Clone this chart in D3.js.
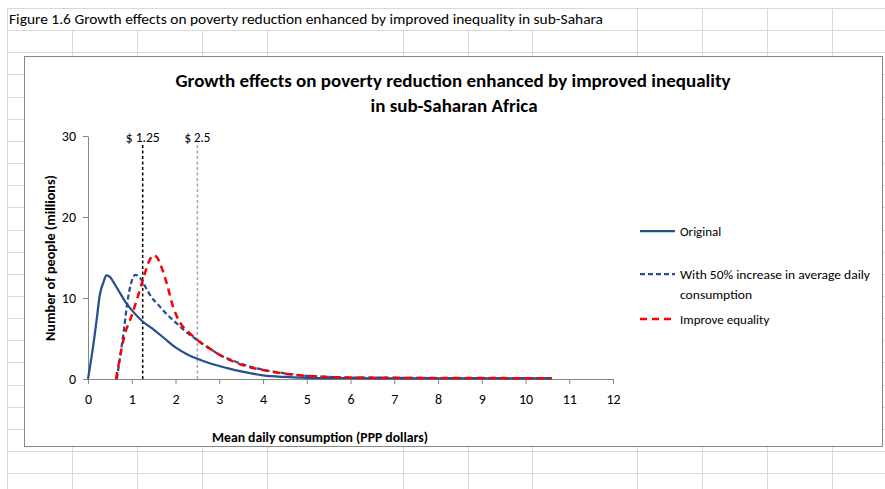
<!DOCTYPE html>
<html>
<head>
<meta charset="utf-8">
<script src="https://cdn.jsdelivr.net/npm/d3@7"></script>
<style>
  html, body { margin: 0; padding: 0; background: #fff; }
  svg { display: block; font-family: Carlito, Calibri, Lato, sans-serif; }
</style>
</head>
<body>
<div id="chart"></div>
<script>
// series data
const origX   = [0, 0.1, 0.2, 0.27, 0.35, 0.42, 0.5, 0.6, 0.7, 0.87, 1.0, 1.25, 1.5, 1.75, 2.0, 2.25, 2.5, 2.75, 3.0, 3.25, 3.5, 4.0, 4.5, 5.0, 5.5, 6, 7, 8, 9, 10, 10.6];
const origY   = [0, 3.4, 7.4, 10.4, 11.9, 12.8, 12.6, 11.8, 10.9, 9.4, 8.5, 7.1, 6.1, 5.0, 3.9, 3.1, 2.5, 2.0, 1.6, 1.25, 0.95, 0.45, 0.25, 0.15, 0.1, 0.1, 0.08, 0.08, 0.08, 0.08, 0.08];
const growthX = [0.66, 0.72, 0.82, 0.9, 0.97, 1.02, 1.08, 1.15, 1.25, 1.35, 1.45, 1.6, 1.8, 2.0, 2.2, 2.5, 2.8, 3.0, 3.3, 3.6, 4.0, 4.5, 5.0, 5.5, 6, 7, 8, 9, 10, 10.6];
const growthY = [0, 2.2, 6.0, 9.5, 11.5, 12.4, 12.85, 12.7, 12.0, 11.0, 10.1, 9.2, 8.0, 7.0, 6.0, 4.8, 3.7, 3.0, 2.3, 1.7, 1.15, 0.7, 0.4, 0.25, 0.18, 0.15, 0.12, 0.12, 0.1, 0.1];
const equalX  = [0.64, 0.72, 0.83, 0.99, 1.14, 1.28, 1.41, 1.5, 1.58, 1.7, 1.8, 1.94, 2.1, 2.3, 2.5, 2.8, 3.0, 3.3, 3.6, 4.0, 4.5, 5.0, 5.5, 6, 7, 8, 9, 10, 10.6];
const equalY  = [0, 2.4, 5.3, 7.7, 10.2, 12.7, 14.7, 15.3, 15.0, 13.5, 11.8, 9.0, 7.0, 5.8, 4.8, 3.7, 3.0, 2.2, 1.6, 1.1, 0.65, 0.38, 0.25, 0.18, 0.15, 0.12, 0.12, 0.1, 0.1];

const seriesNames = ["Original", "With 50% increase in average daily consumption", "Improve equality"];
const povertyLines = [1.25, 2.5];
const povertyLabels = ["$ 1.25", "$ 2.5"];
const xTickValues = [0, 1, 2, 3, 4, 5, 6, 7, 8, 9, 10, 11, 12];
const yTickValues = [0, 10, 20, 30];

const width = 885;
const height = 489;

const svg = d3.select("#chart")
    .append("svg")
    .attr("width", width)
    .attr("height", height);

// stretch/squeeze text to the width seen in the picture
function fit(sel, w) {
    const len = sel.node().getComputedTextLength();
    if (Math.abs(len - w) / w > 0.02) {
        sel.attr("textLength", w).attr("lengthAdjust", "spacingAndGlyphs");
    }
    return sel;
}

// spreadsheet grid behind the chart
const gridColor = "#d9d9d9";
const colLines = [7, 72, 137, 202, 267, 403, 468, 532, 637, 702, 767, 832];
const rowLines = d3.range(22).map(i => Math.round(8 + i * 22.15) + 0.5);

const grid = svg.append("g").attr("stroke", gridColor).attr("stroke-width", 1);
grid.selectAll("line.row")
    .data(rowLines)
    .enter().append("line")
    .attr("x1", 7).attr("x2", width)
    .attr("y1", d => d).attr("y2", d => d);
grid.selectAll("line.col")
    .data(colLines)
    .enter().append("line")
    .attr("x1", d => d + 0.5).attr("x2", d => d + 0.5)
    .attr("y1", d => (d > 7 && d < 610) ? rowLines[1] : rowLines[0])
    .attr("y2", height);

svg.append("text")
    .attr("x", 9)
    .attr("y", 24)
    .attr("font-size", 14.5)
    .attr("fill", "#000")
    .text("Figure 1.6 Growth effects on poverty reduction enhanced by improved inequality in sub-Sahara")
    .call(s => fit(s, 594));

// chart frame
svg.append("rect")
    .attr("x", 24.5).attr("y", 56.5)
    .attr("width", 858).attr("height", 390)
    .attr("fill", "#fff")
    .attr("stroke", "#868686")
    .attr("stroke-width", 1);

// title
const title = svg.append("g")
    .attr("font-weight", "bold")
    .attr("font-size", 18.5)
    .attr("text-anchor", "middle")
    .attr("fill", "#000");
title.append("text").attr("x", 453).attr("y", 87)
    .text("Growth effects on poverty reduction enhanced by improved inequality")
    .call(s => fit(s, 555));
title.append("text").attr("x", 454).attr("y", 112)
    .text("in sub-Saharan Africa")
    .call(s => fit(s, 167));

// scales
const x = d3.scaleLinear().domain([0, 12]).range([88, 613]);
const y = d3.scaleLinear().domain([0, 30]).range([379, 136]);

const axisColor = "#868686";

const xAxis = svg.append("g")
    .attr("transform", `translate(0,${y(0)})`)
    .call(d3.axisBottom(x).tickValues(xTickValues).tickSize(5).tickSizeOuter(0).tickPadding(8));
const yAxis = svg.append("g")
    .attr("transform", `translate(${x(0)},0)`)
    .call(d3.axisLeft(y).tickValues(yTickValues).tickSize(5).tickSizeOuter(0).tickPadding(7));

[xAxis, yAxis].forEach(a => {
    a.select(".domain").attr("stroke", axisColor);
    a.selectAll(".tick line").attr("stroke", axisColor);
    a.selectAll(".tick text")
        .attr("fill", "#000")
        .attr("font-size", 14)
        .attr("font-family", "Carlito, Calibri, Lato, sans-serif");
});
xAxis.selectAll(".tick text").attr("dy", "0.85em");

// axis titles
svg.append("text")
    .attr("x", 320).attr("y", 442)
    .attr("text-anchor", "middle")
    .attr("font-weight", "bold")
    .attr("font-size", 13)
    .text("Mean daily consumption (PPP dollars)")
    .call(s => fit(s, 216));

svg.append("text")
    .attr("transform", "translate(55,258) rotate(-90)")
    .attr("text-anchor", "middle")
    .attr("font-weight", "bold")
    .attr("font-size", 13)
    .text("Number of people (millions)")
    .call(s => fit(s, 166));

// poverty lines
const povColors = ["#000", "#a6a6a6"];
svg.selectAll("line.pov")
    .data(povertyLines)
    .enter().append("line")
    .attr("x1", d => x(d)).attr("x2", d => x(d))
    .attr("y1", y(30) + 9).attr("y2", y(0))
    .attr("stroke", (d, i) => povColors[i])
    .attr("stroke-width", 1.5)
    .attr("stroke-dasharray", "3,2.5");

const povWidths = [34, 26];
svg.selectAll("text.pov")
    .data(povertyLines)
    .enter().append("text")
    .attr("x", d => x(d))
    .attr("y", 142)
    .attr("text-anchor", "middle")
    .attr("font-size", 14)
    .attr("fill", "#000")
    .text((d, i) => povertyLabels[i])
    .each(function (d, i) { fit(d3.select(this), povWidths[i]); });

// curves
const line = d3.line()
    .x(d => x(d[0]))
    .y(d => y(d[1]))
    .curve(d3.curveMonotoneX);

const series = [
    { name: seriesNames[0], pts: d3.zip(origX, origY), color: "#254f8e", width: 2.25, dash: null },
    { name: seriesNames[1], pts: d3.zip(growthX, growthY), color: "#254f8e", width: 2.25, dash: "5,3" },
    { name: seriesNames[2], pts: d3.zip(equalX, equalY), color: "#ff0000", width: 2.5, dash: "7,5" }
];

svg.append("g")
    .selectAll("path")
    .data(series)
    .enter().append("path")
    .attr("d", d => line(d.pts))
    .attr("fill", "none")
    .attr("stroke", d => d.color)
    .attr("stroke-width", d => d.width)
    .attr("stroke-dasharray", d => d.dash);

// legend
const legendY = [231, 274, 319];
const legend = svg.append("g")
    .selectAll("g")
    .data(series)
    .enter().append("g")
    .attr("transform", (d, i) => `translate(640,${legendY[i]})`);

legend.append("line")
    .attr("x1", 0).attr("x2", 35)
    .attr("stroke", d => d.color)
    .attr("stroke-width", d => d.width)
    .attr("stroke-dasharray", d => d.dash);

legend.each(function (d, i) {
    const g = d3.select(this);
    const t = g.append("text")
        .attr("x", 40)
        .attr("y", 4.5)
        .attr("font-size", 13)
        .attr("fill", "#000");
    if (i === 1) {
        t.text("With 50% increase in average daily").call(s => fit(s, 190));
        g.append("text")
            .attr("x", 40).attr("y", 24.5)
            .attr("font-size", 13)
            .attr("fill", "#000")
            .text("consumption")
            .call(s => fit(s, 72));
    } else {
        t.text(d.name);
    }
});
</script>
</body>
</html>
